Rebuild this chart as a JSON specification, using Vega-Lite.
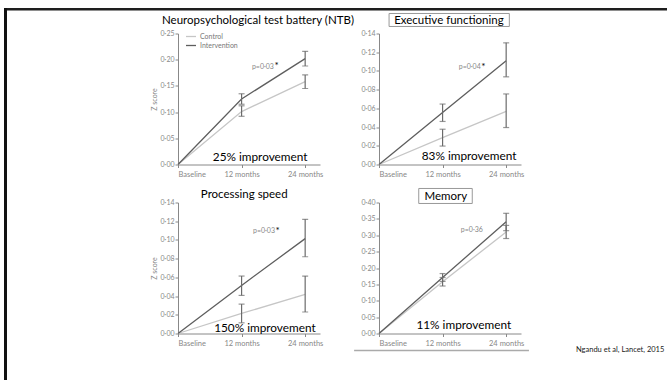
{
  "$schema": "https://vega.github.io/schema/vega-lite/v6.json",
  "autosize": {"type": "pad"},
  "padding": {"left": 4, "top": 8, "right": 0, "bottom": 0},
  "background": "white",
  "config": {
    "font": "Lato",
    "view": {"stroke": null},
    "axis": {"grid": false, "labelFont": "Lato", "labelFontSize": 7, "labelColor": "#888", "tickColor": "#888", "domainColor": "#888", "tickSize": 3, "titleFont": "Lato", "titleFontSize": 7, "titleFontWeight": "normal", "titleColor": "#888", "labelPadding": 1, "titlePadding": 3, "labelOverlap": false},
    "axisX": {"labelPadding": 3, "labelFontSize": 7.5},
    "title": {"font": "Lato", "fontWeight": "normal", "color": "#000", "fontSize": 12, "baseline": "alphabetic", "frame": "group", "anchor": "middle"}
  },
  "datasets": {
    "d": [
      {"panel": "NTB", "group": "Control", "months": 0, "value": 0},
      {"panel": "NTB", "group": "Control", "months": 12, "value": 0.101, "lo": 0.092, "hi": 0.112},
      {"panel": "NTB", "group": "Control", "months": 24, "value": 0.158, "lo": 0.145, "hi": 0.171},
      {"panel": "NTB", "group": "Intervention", "months": 0, "value": 0},
      {"panel": "NTB", "group": "Intervention", "months": 12, "value": 0.125, "lo": 0.115, "hi": 0.135},
      {"panel": "NTB", "group": "Intervention", "months": 24, "value": 0.202, "lo": 0.188, "hi": 0.216},
      {"panel": "EF", "group": "Control", "months": 0, "value": 0},
      {"panel": "EF", "group": "Control", "months": 12, "value": 0.0287, "lo": 0.0197, "hi": 0.0377},
      {"panel": "EF", "group": "Control", "months": 24, "value": 0.0567, "lo": 0.0395, "hi": 0.0754},
      {"panel": "EF", "group": "Intervention", "months": 0, "value": 0},
      {"panel": "EF", "group": "Intervention", "months": 12, "value": 0.0556, "lo": 0.046, "hi": 0.0646},
      {"panel": "EF", "group": "Intervention", "months": 24, "value": 0.111, "lo": 0.0937, "hi": 0.13},
      {"panel": "PS", "group": "Control", "months": 0, "value": 0},
      {"panel": "PS", "group": "Control", "months": 12, "value": 0.0214, "lo": 0.0114, "hi": 0.0314},
      {"panel": "PS", "group": "Control", "months": 24, "value": 0.0418, "lo": 0.023, "hi": 0.0614},
      {"panel": "PS", "group": "Intervention", "months": 0, "value": 0},
      {"panel": "PS", "group": "Intervention", "months": 12, "value": 0.0514, "lo": 0.0407, "hi": 0.0614},
      {"panel": "PS", "group": "Intervention", "months": 24, "value": 0.1014, "lo": 0.082, "hi": 0.122},
      {"panel": "MEM", "group": "Control", "months": 0, "value": 0},
      {"panel": "MEM", "group": "Control", "months": 12, "value": 0.158, "lo": 0.145, "hi": 0.171},
      {"panel": "MEM", "group": "Control", "months": 24, "value": 0.31, "lo": 0.29, "hi": 0.33},
      {"panel": "MEM", "group": "Intervention", "months": 0, "value": 0},
      {"panel": "MEM", "group": "Intervention", "months": 12, "value": 0.171, "lo": 0.159, "hi": 0.183},
      {"panel": "MEM", "group": "Intervention", "months": 24, "value": 0.341, "lo": 0.314, "hi": 0.367}
    ]
  },
  "hconcat": [
    {"width": 3, "height": 372, "data": {"values": []}, "mark": "point", "view": {"fill": "#111", "stroke": null}},
    {
      "vconcat": [
        {"width": 663, "height": 2.5, "data": {"values": []}, "mark": "point", "view": {"fill": "#1e1e1e", "stroke": null}},
        {
          "hconcat": [
            {"width": 171, "height": 1, "data": {"values": []}, "mark": "point"},
            {
              "columns": 3,
              "spacing": {"row": 38, "column": 59},
              "bounds": "flush",
              "resolve": {"scale": {"color": "independent"}, "legend": {"color": "independent"}},
              "concat": [
                {
                  "width": 142, "height": 131,
                  "layer": [
                    {
                      "data": {"name": "d"},
                      "transform": [{"filter": "datum.panel == 'NTB'"}],
                      "mark": {"type": "line", "strokeWidth": 1.3},
                      "encoding": {
                        "x": {"field": "months", "type": "quantitative", "scale": {"domain": [0, 26.8], "nice": false, "zero": false}, "axis": {"values": [0, 12, 24], "labelExpr": "datum.value == 0 ? 'Baseline' : datum.value + ' months'", "title": null}},
                        "y": {"field": "value", "type": "quantitative", "scale": {"domain": [0, 0.25], "nice": false}, "axis": {"values": [0, 0.05, 0.1, 0.15, 0.2, 0.25], "labelExpr": "replace(format(datum.value, '.2f'), '.', '·')", "title": "Z score"}},
                        "color": {"field": "group", "type": "nominal", "scale": {"domain": ["Control", "Intervention"], "range": ["#c6c6c6", "#5e5e5e"]}, "legend": {"orient": "none", "legendX": 7, "legendY": -3, "title": null, "symbolType": "stroke", "symbolSize": 100, "symbolStrokeWidth": 1.3, "labelFontSize": 7, "labelColor": "#777", "labelFont": "Lato", "rowPadding": 0, "padding": 0, "labelOffset": 3}}
                      }
                    },
                    {
                      "data": {"name": "d"},
                      "transform": [{"filter": "datum.panel == 'NTB' && datum.months > 0"}],
                      "mark": {"type": "rule", "color": "#6b6b6b", "strokeWidth": 1.2},
                      "encoding": {"x": {"field": "months", "type": "quantitative"}, "y": {"field": "lo", "type": "quantitative", "axis": {"values": [0, 0.05, 0.1, 0.15, 0.2, 0.25], "labelExpr": "replace(format(datum.value, '.2f'), '.', '·')", "title": "Z score"}}, "y2": {"field": "hi"}}
                    },
                    {
                      "data": {"name": "d"},
                      "transform": [{"filter": "datum.panel == 'NTB' && datum.months > 0"}],
                      "mark": {"type": "tick", "orient": "horizontal", "size": 6, "thickness": 1.2, "color": "#6b6b6b"},
                      "encoding": {"x": {"field": "months", "type": "quantitative"}, "y": {"field": "lo", "type": "quantitative", "axis": {"values": [0, 0.05, 0.1, 0.15, 0.2, 0.25], "labelExpr": "replace(format(datum.value, '.2f'), '.', '·')", "title": "Z score"}}}
                    },
                    {
                      "data": {"name": "d"},
                      "transform": [{"filter": "datum.panel == 'NTB' && datum.months > 0"}],
                      "mark": {"type": "tick", "orient": "horizontal", "size": 6, "thickness": 1.2, "color": "#6b6b6b"},
                      "encoding": {"x": {"field": "months", "type": "quantitative"}, "y": {"field": "hi", "type": "quantitative", "axis": {"values": [0, 0.05, 0.1, 0.15, 0.2, 0.25], "labelExpr": "replace(format(datum.value, '.2f'), '.', '·')", "title": "Z score"}}}
                    },
                    {
                      "data": {"values": [{}]},
                      "mark": {"type": "text", "fontSize": 11.5, "color": "#000", "align": "center", "baseline": "alphabetic", "font": "Lato"},
                      "encoding": {"x": {"datum": 15.1}, "y": {"datum": 0.269, "axis": {"values": [0, 0.05, 0.1, 0.15, 0.2, 0.25], "labelExpr": "replace(format(datum.value, '.2f'), '.', '·')", "title": "Z score"}}, "text": {"value": "Neuropsychological test battery (NTB)"}}
                    },
                    {
                      "data": {"values": [{}]},
                      "mark": {"type": "text", "fontSize": 11.8, "color": "#000", "align": "center", "baseline": "alphabetic", "font": "Lato"},
                      "encoding": {"x": {"datum": 15.5}, "y": {"datum": 0.006, "axis": {"values": [0, 0.05, 0.1, 0.15, 0.2, 0.25], "labelExpr": "replace(format(datum.value, '.2f'), '.', '·')", "title": "Z score"}}, "text": {"value": "25% improvement"}}
                    },
                    {
                      "data": {"values": [{}]},
                      "mark": {"type": "text", "fontSize": 7, "color": "#888", "align": "right", "baseline": "alphabetic", "font": "Lato"},
                      "encoding": {"x": {"datum": 18.1}, "y": {"datum": 0.182, "axis": {"values": [0, 0.05, 0.1, 0.15, 0.2, 0.25], "labelExpr": "replace(format(datum.value, '.2f'), '.', '·')", "title": "Z score"}}, "text": {"value": "p=0·03"}}
                    },
                    {
                      "data": {"values": [{}]},
                      "mark": {"type": "text", "fontSize": 10, "color": "#000", "align": "left", "baseline": "alphabetic", "font": "Lato"},
                      "encoding": {"x": {"datum": 18.2}, "y": {"datum": 0.182, "axis": {"values": [0, 0.05, 0.1, 0.15, 0.2, 0.25], "labelExpr": "replace(format(datum.value, '.2f'), '.', '·')", "title": "Z score"}}, "text": {"value": "*"}}
                    }
                  ]
                },
                {
                  "width": 142, "height": 131,
                  "layer": [
                    {
                      "data": {"values": [{}]},
                      "mark": {"type": "rect", "fill": "white", "fillOpacity": 0, "stroke": "#999", "strokeWidth": 1},
                      "encoding": {"x": {"datum": 1.9}, "x2": {"datum": 24.6}, "y": {"datum": 0.1475, "axis": {"values": [0, 0.02, 0.04, 0.06, 0.08, 0.1, 0.12, 0.14], "labelExpr": "replace(format(datum.value, '.2f'), '.', '·')", "title": null}}, "y2": {"datum": 0.1614}}
                    },
                    {
                      "data": {"name": "d"},
                      "transform": [{"filter": "datum.panel == 'EF'"}],
                      "mark": {"type": "line", "strokeWidth": 1.3},
                      "encoding": {
                        "x": {"field": "months", "type": "quantitative", "scale": {"domain": [0, 26.8], "nice": false, "zero": false}, "axis": {"values": [0, 12, 24], "labelExpr": "datum.value == 0 ? 'Baseline' : datum.value + ' months'", "title": null}},
                        "y": {"field": "value", "type": "quantitative", "scale": {"domain": [0, 0.14], "nice": false}, "axis": {"values": [0, 0.02, 0.04, 0.06, 0.08, 0.1, 0.12, 0.14], "labelExpr": "replace(format(datum.value, '.2f'), '.', '·')", "title": null}},
                        "color": {"field": "group", "type": "nominal", "scale": {"domain": ["Control", "Intervention"], "range": ["#c6c6c6", "#5e5e5e"]}, "legend": null}
                      }
                    },
                    {
                      "data": {"name": "d"},
                      "transform": [{"filter": "datum.panel == 'EF' && datum.months > 0"}],
                      "mark": {"type": "rule", "color": "#6b6b6b", "strokeWidth": 1.2},
                      "encoding": {"x": {"field": "months", "type": "quantitative"}, "y": {"field": "lo", "type": "quantitative", "axis": {"values": [0, 0.02, 0.04, 0.06, 0.08, 0.1, 0.12, 0.14], "labelExpr": "replace(format(datum.value, '.2f'), '.', '·')", "title": null}}, "y2": {"field": "hi"}}
                    },
                    {
                      "data": {"name": "d"},
                      "transform": [{"filter": "datum.panel == 'EF' && datum.months > 0"}],
                      "mark": {"type": "tick", "orient": "horizontal", "size": 6, "thickness": 1.2, "color": "#6b6b6b"},
                      "encoding": {"x": {"field": "months", "type": "quantitative"}, "y": {"field": "lo", "type": "quantitative", "axis": {"values": [0, 0.02, 0.04, 0.06, 0.08, 0.1, 0.12, 0.14], "labelExpr": "replace(format(datum.value, '.2f'), '.', '·')", "title": null}}}
                    },
                    {
                      "data": {"name": "d"},
                      "transform": [{"filter": "datum.panel == 'EF' && datum.months > 0"}],
                      "mark": {"type": "tick", "orient": "horizontal", "size": 6, "thickness": 1.2, "color": "#6b6b6b"},
                      "encoding": {"x": {"field": "months", "type": "quantitative"}, "y": {"field": "hi", "type": "quantitative", "axis": {"values": [0, 0.02, 0.04, 0.06, 0.08, 0.1, 0.12, 0.14], "labelExpr": "replace(format(datum.value, '.2f'), '.', '·')", "title": null}}}
                    },
                    {
                      "data": {"values": [{}]},
                      "mark": {"type": "text", "fontSize": 11.5, "color": "#000", "align": "center", "baseline": "alphabetic", "font": "Lato"},
                      "encoding": {"x": {"datum": 13.2}, "y": {"datum": 0.1505, "axis": {"values": [0, 0.02, 0.04, 0.06, 0.08, 0.1, 0.12, 0.14], "labelExpr": "replace(format(datum.value, '.2f'), '.', '·')", "title": null}}, "text": {"value": "Executive functioning"}}
                    },
                    {
                      "data": {"values": [{}]},
                      "mark": {"type": "text", "fontSize": 11.8, "color": "#000", "align": "center", "baseline": "alphabetic", "font": "Lato"},
                      "encoding": {"x": {"datum": 17.0}, "y": {"datum": 0.0043, "axis": {"values": [0, 0.02, 0.04, 0.06, 0.08, 0.1, 0.12, 0.14], "labelExpr": "replace(format(datum.value, '.2f'), '.', '·')", "title": null}}, "text": {"value": "83% improvement"}}
                    },
                    {
                      "data": {"values": [{}]},
                      "mark": {"type": "text", "fontSize": 7, "color": "#888", "align": "right", "baseline": "alphabetic", "font": "Lato"},
                      "encoding": {"x": {"datum": 19.2}, "y": {"datum": 0.102, "axis": {"values": [0, 0.02, 0.04, 0.06, 0.08, 0.1, 0.12, 0.14], "labelExpr": "replace(format(datum.value, '.2f'), '.', '·')", "title": null}}, "text": {"value": "p=0·04"}}
                    },
                    {
                      "data": {"values": [{}]},
                      "mark": {"type": "text", "fontSize": 10, "color": "#000", "align": "left", "baseline": "alphabetic", "font": "Lato"},
                      "encoding": {"x": {"datum": 19.3}, "y": {"datum": 0.1015, "axis": {"values": [0, 0.02, 0.04, 0.06, 0.08, 0.1, 0.12, 0.14], "labelExpr": "replace(format(datum.value, '.2f'), '.', '·')", "title": null}}, "text": {"value": "*"}}
                    }
                  ]
                },
                {"width": 1, "height": 1, "data": {"values": []}, "mark": "point"},
                {
                  "width": 142, "height": 131,
                  "layer": [
                    {
                      "data": {"name": "d"},
                      "transform": [{"filter": "datum.panel == 'PS'"}],
                      "mark": {"type": "line", "strokeWidth": 1.3},
                      "encoding": {
                        "x": {"field": "months", "type": "quantitative", "scale": {"domain": [0, 26.8], "nice": false, "zero": false}, "axis": {"values": [0, 12, 24], "labelExpr": "datum.value == 0 ? 'Baseline' : datum.value + ' months'", "title": null}},
                        "y": {"field": "value", "type": "quantitative", "scale": {"domain": [0, 0.14], "nice": false}, "axis": {"values": [0, 0.02, 0.04, 0.06, 0.08, 0.1, 0.12, 0.14], "labelExpr": "replace(format(datum.value, '.2f'), '.', '·')", "title": "Z score"}},
                        "color": {"field": "group", "type": "nominal", "scale": {"domain": ["Control", "Intervention"], "range": ["#c6c6c6", "#5e5e5e"]}, "legend": null}
                      }
                    },
                    {
                      "data": {"name": "d"},
                      "transform": [{"filter": "datum.panel == 'PS' && datum.months > 0"}],
                      "mark": {"type": "rule", "color": "#6b6b6b", "strokeWidth": 1.2},
                      "encoding": {"x": {"field": "months", "type": "quantitative"}, "y": {"field": "lo", "type": "quantitative", "axis": {"values": [0, 0.02, 0.04, 0.06, 0.08, 0.1, 0.12, 0.14], "labelExpr": "replace(format(datum.value, '.2f'), '.', '·')", "title": "Z score"}}, "y2": {"field": "hi"}}
                    },
                    {
                      "data": {"name": "d"},
                      "transform": [{"filter": "datum.panel == 'PS' && datum.months > 0"}],
                      "mark": {"type": "tick", "orient": "horizontal", "size": 6, "thickness": 1.2, "color": "#6b6b6b"},
                      "encoding": {"x": {"field": "months", "type": "quantitative"}, "y": {"field": "lo", "type": "quantitative", "axis": {"values": [0, 0.02, 0.04, 0.06, 0.08, 0.1, 0.12, 0.14], "labelExpr": "replace(format(datum.value, '.2f'), '.', '·')", "title": "Z score"}}}
                    },
                    {
                      "data": {"name": "d"},
                      "transform": [{"filter": "datum.panel == 'PS' && datum.months > 0"}],
                      "mark": {"type": "tick", "orient": "horizontal", "size": 6, "thickness": 1.2, "color": "#6b6b6b"},
                      "encoding": {"x": {"field": "months", "type": "quantitative"}, "y": {"field": "hi", "type": "quantitative", "axis": {"values": [0, 0.02, 0.04, 0.06, 0.08, 0.1, 0.12, 0.14], "labelExpr": "replace(format(datum.value, '.2f'), '.', '·')", "title": "Z score"}}}
                    },
                    {
                      "data": {"values": [{}]},
                      "mark": {"type": "text", "fontSize": 11.5, "color": "#000", "align": "center", "baseline": "alphabetic", "font": "Lato"},
                      "encoding": {"x": {"datum": 12.5}, "y": {"datum": 0.1443, "axis": {"values": [0, 0.02, 0.04, 0.06, 0.08, 0.1, 0.12, 0.14], "labelExpr": "replace(format(datum.value, '.2f'), '.', '·')", "title": "Z score"}}, "text": {"value": "Processing speed"}}
                    },
                    {
                      "data": {"values": [{}]},
                      "mark": {"type": "text", "fontSize": 11.8, "color": "#000", "align": "center", "baseline": "alphabetic", "font": "Lato"},
                      "encoding": {"x": {"datum": 16.4}, "y": {"datum": 0.002, "axis": {"values": [0, 0.02, 0.04, 0.06, 0.08, 0.1, 0.12, 0.14], "labelExpr": "replace(format(datum.value, '.2f'), '.', '·')", "title": "Z score"}}, "text": {"value": "150% improvement"}}
                    },
                    {
                      "data": {"values": [{}]},
                      "mark": {"type": "text", "fontSize": 7, "color": "#888", "align": "right", "baseline": "alphabetic", "font": "Lato"},
                      "encoding": {"x": {"datum": 18.3}, "y": {"datum": 0.107, "axis": {"values": [0, 0.02, 0.04, 0.06, 0.08, 0.1, 0.12, 0.14], "labelExpr": "replace(format(datum.value, '.2f'), '.', '·')", "title": "Z score"}}, "text": {"value": "p=0·03"}}
                    },
                    {
                      "data": {"values": [{}]},
                      "mark": {"type": "text", "fontSize": 10, "color": "#000", "align": "left", "baseline": "alphabetic", "font": "Lato"},
                      "encoding": {"x": {"datum": 18.4}, "y": {"datum": 0.1065, "axis": {"values": [0, 0.02, 0.04, 0.06, 0.08, 0.1, 0.12, 0.14], "labelExpr": "replace(format(datum.value, '.2f'), '.', '·')", "title": "Z score"}}, "text": {"value": "*"}}
                    }
                  ]
                },
                {
                  "width": 142, "height": 131,
                  "layer": [
                    {
                      "data": {"values": [{}]},
                      "mark": {"type": "rect", "fill": "white", "fillOpacity": 0, "stroke": "#999", "strokeWidth": 1},
                      "encoding": {"x": {"datum": 7.5}, "x2": {"datum": 17.6}, "y": {"datum": 0.397, "axis": {"values": [0, 0.05, 0.1, 0.15, 0.2, 0.25, 0.3, 0.35, 0.4], "labelExpr": "replace(format(datum.value, '.2f'), '.', '·')", "title": null}}, "y2": {"datum": 0.4428}}
                    },
                    {
                      "data": {"values": [{}]},
                      "mark": {"type": "rule", "color": "#aaa", "strokeWidth": 1.5},
                      "encoding": {"x": {"datum": -4.7}, "x2": {"datum": 28.3}, "y": {"datum": -0.052, "axis": {"values": [0, 0.05, 0.1, 0.15, 0.2, 0.25, 0.3, 0.35, 0.4], "labelExpr": "replace(format(datum.value, '.2f'), '.', '·')", "title": null}}}
                    },
                    {
                      "data": {"name": "d"},
                      "transform": [{"filter": "datum.panel == 'MEM'"}],
                      "mark": {"type": "line", "strokeWidth": 1.3},
                      "encoding": {
                        "x": {"field": "months", "type": "quantitative", "scale": {"domain": [0, 26.8], "nice": false, "zero": false}, "axis": {"values": [0, 12, 24], "labelExpr": "datum.value == 0 ? 'Baseline' : datum.value + ' months'", "title": null}},
                        "y": {"field": "value", "type": "quantitative", "scale": {"domain": [0, 0.4], "nice": false}, "axis": {"values": [0, 0.05, 0.1, 0.15, 0.2, 0.25, 0.3, 0.35, 0.4], "labelExpr": "replace(format(datum.value, '.2f'), '.', '·')", "title": null}},
                        "color": {"field": "group", "type": "nominal", "scale": {"domain": ["Control", "Intervention"], "range": ["#c6c6c6", "#5e5e5e"]}, "legend": null}
                      }
                    },
                    {
                      "data": {"name": "d"},
                      "transform": [{"filter": "datum.panel == 'MEM' && datum.months > 0"}],
                      "mark": {"type": "rule", "color": "#6b6b6b", "strokeWidth": 1.2},
                      "encoding": {"x": {"field": "months", "type": "quantitative"}, "y": {"field": "lo", "type": "quantitative", "axis": {"values": [0, 0.05, 0.1, 0.15, 0.2, 0.25, 0.3, 0.35, 0.4], "labelExpr": "replace(format(datum.value, '.2f'), '.', '·')", "title": null}}, "y2": {"field": "hi"}}
                    },
                    {
                      "data": {"name": "d"},
                      "transform": [{"filter": "datum.panel == 'MEM' && datum.months > 0"}],
                      "mark": {"type": "tick", "orient": "horizontal", "size": 6, "thickness": 1.2, "color": "#6b6b6b"},
                      "encoding": {"x": {"field": "months", "type": "quantitative"}, "y": {"field": "lo", "type": "quantitative", "axis": {"values": [0, 0.05, 0.1, 0.15, 0.2, 0.25, 0.3, 0.35, 0.4], "labelExpr": "replace(format(datum.value, '.2f'), '.', '·')", "title": null}}}
                    },
                    {
                      "data": {"name": "d"},
                      "transform": [{"filter": "datum.panel == 'MEM' && datum.months > 0"}],
                      "mark": {"type": "tick", "orient": "horizontal", "size": 6, "thickness": 1.2, "color": "#6b6b6b"},
                      "encoding": {"x": {"field": "months", "type": "quantitative"}, "y": {"field": "hi", "type": "quantitative", "axis": {"values": [0, 0.05, 0.1, 0.15, 0.2, 0.25, 0.3, 0.35, 0.4], "labelExpr": "replace(format(datum.value, '.2f'), '.', '·')", "title": null}}}
                    },
                    {
                      "data": {"values": [{}]},
                      "mark": {"type": "text", "fontSize": 11.5, "color": "#000", "align": "center", "baseline": "alphabetic", "font": "Lato"},
                      "encoding": {"x": {"datum": 12.6}, "y": {"datum": 0.409, "axis": {"values": [0, 0.05, 0.1, 0.15, 0.2, 0.25, 0.3, 0.35, 0.4], "labelExpr": "replace(format(datum.value, '.2f'), '.', '·')", "title": null}}, "text": {"value": "Memory"}}
                    },
                    {
                      "data": {"values": [{}]},
                      "mark": {"type": "text", "fontSize": 11.8, "color": "#000", "align": "center", "baseline": "alphabetic", "font": "Lato"},
                      "encoding": {"x": {"datum": 16.0}, "y": {"datum": 0.015, "axis": {"values": [0, 0.05, 0.1, 0.15, 0.2, 0.25, 0.3, 0.35, 0.4], "labelExpr": "replace(format(datum.value, '.2f'), '.', '·')", "title": null}}, "text": {"value": "11% improvement"}}
                    },
                    {
                      "data": {"values": [{}]},
                      "mark": {"type": "text", "fontSize": 7, "color": "#888", "align": "right", "baseline": "alphabetic", "font": "Lato"},
                      "encoding": {"x": {"datum": 19.6}, "y": {"datum": 0.311, "axis": {"values": [0, 0.05, 0.1, 0.15, 0.2, 0.25, 0.3, 0.35, 0.4], "labelExpr": "replace(format(datum.value, '.2f'), '.', '·')", "title": null}}, "text": {"value": "p=0·36"}}
                    }
                  ]
                },
                {
                  "width": 90, "height": 131,
                  "data": {"values": []}, "mark": "point",
                  "title": {"text": "Ngandu et al, Lancet, 2015", "orient": "bottom", "anchor": "start", "fontSize": 7.5, "offset": 12, "dx": -4, "color": "#222"}
                }
              ]
            }
          ],
          "spacing": 0,
          "bounds": "flush"
        }
      ],
      "spacing": 22.5,
      "bounds": "flush"
    }
  ],
  "spacing": 0,
  "bounds": "flush"
}
